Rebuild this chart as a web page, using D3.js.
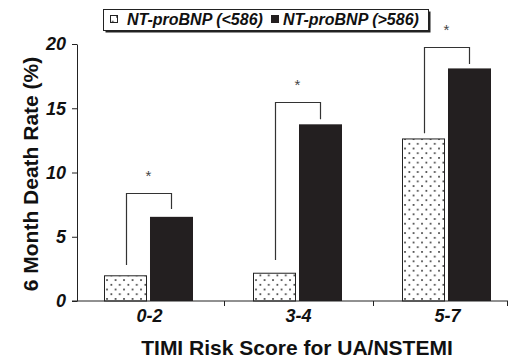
<!DOCTYPE html>
<html>
<head>
<meta charset="utf-8">
<script src="https://cdn.jsdelivr.net/npm/d3@7"></script>
<style>
  body { margin: 0; background: #fff; }
  text { font-family: "Liberation Sans", Arial, sans-serif; fill: #111; }
</style>
</head>
<body>
<div id="chart"></div>
<script>
// data
var categories = ["0-2", "3-4", "5-7"];
var series = ["NT-proBNP (<586)", "NT-proBNP (>586)"];
var lowValues = [2.0, 2.2, 12.65];
var highValues = [6.55, 13.75, 18.1];
// significance brackets (value units): left end, top, right end
var bracketLeft = [2.8, 3.2, 13.05];
var bracketTop = [8.4, 15.5, 19.75];
var bracketRight = [7.15, 14.15, 18.45];
var yTicks = [0, 5, 10, 15, 20];

var width = 509, height = 359;

var svg = d3.select("#chart").append("svg")
    .attr("width", width)
    .attr("height", height);

// dotted fill
var defs = svg.append("defs");
var pat = defs.append("pattern")
    .attr("id", "dots")
    .attr("patternUnits", "userSpaceOnUse")
    .attr("width", 8.5)
    .attr("height", 9.4);
pat.append("rect").attr("width", 8.5).attr("height", 9.4).attr("fill", "#fff");
pat.append("rect").attr("x", 1.5).attr("y", 2).attr("width", 1.6).attr("height", 1.6).attr("fill", "#222");
pat.append("rect").attr("x", 5.75).attr("y", 6.7).attr("width", 1.6).attr("height", 1.6).attr("fill", "#222");

var y = d3.scaleLinear().domain([0, 20]).range([301, 44]);

var x0 = d3.scaleBand().domain(categories).range([75, 522]);
var x1 = d3.scaleBand().domain(["low", "high"]).range([29, 118]).paddingInner(0.065);

var rows = categories.map(function(c, i) {
    return {cat: c, low: lowValues[i], high: highValues[i],
            bl: bracketLeft[i], bt: bracketTop[i], br: bracketRight[i]};
});

// bars
var groups = svg.selectAll(".grp")
    .data(rows)
    .enter().append("g")
    .attr("class", "grp")
    .attr("transform", function(d) { return "translate(" + x0(d.cat) + ",0)"; });

groups.append("rect")
    .attr("x", x1("low") + 0.5)
    .attr("y", function(d) { return y(d.low) + 0.5; })
    .attr("width", x1.bandwidth() - 1)
    .attr("height", function(d) { return y(0) - y(d.low) - 0.5; })
    .attr("fill", "url(#dots)")
    .attr("stroke", "#222")
    .attr("stroke-width", 1);

groups.append("rect")
    .attr("x", x1("high"))
    .attr("y", function(d) { return y(d.high); })
    .attr("width", x1.bandwidth())
    .attr("height", function(d) { return y(0) - y(d.high); })
    .attr("fill", "#231f20");

// brackets
groups.append("path")
    .attr("fill", "none")
    .attr("stroke", "#333")
    .attr("stroke-width", 1.2)
    .attr("d", function(d) {
        var xl = Math.round(x1("low") + x1.bandwidth() / 2) + 0.5;
        var xr = Math.round(x1("high") + x1.bandwidth() / 2) + 0.5;
        return "M" + xl + "," + y(d.bl) + "V" + (Math.round(y(d.bt)) + 0.5) +
               "H" + xr + "V" + y(d.br);
    });

groups.append("text")
    .attr("x", x1("high") - 1.5)
    .attr("y", function(d) { return y(d.bt) - 12; })
    .attr("text-anchor", "middle")
    .style("font-size", "15px")
    .style("fill", "#444")
    .text("*");

// y axis
var yAxis = svg.append("g")
    .attr("transform", "translate(77,0)")
    .call(d3.axisLeft(y).tickValues(yTicks).tickSize(5).tickPadding(6).tickSizeOuter(0));
yAxis.select(".domain").attr("stroke", "#222");
yAxis.selectAll(".tick line").attr("stroke", "#222");
yAxis.selectAll(".tick text")
    .style("font-size", "18px")
    .style("font-weight", "bold")
    .style("font-style", "italic")
    .attr("fill", "#111");

// x axis
var xAxis = svg.append("g")
    .attr("transform", "translate(0,301)")
    .call(d3.axisBottom(x0).tickSize(0).tickPadding(8));
xAxis.select(".domain").remove();
xAxis.selectAll(".tick text")
    .style("font-size", "18px")
    .style("font-weight", "bold")
    .style("font-style", "italic")
    .attr("fill", "#111");
xAxis.append("line")
    .attr("x1", 72).attr("x2", 508)
    .attr("y1", 0).attr("y2", 0)
    .attr("stroke", "#222");
var bounds = categories.slice(1).map(function(c) { return x0(c); }).concat([507]);
xAxis.selectAll(".bound")
    .data(bounds)
    .enter().append("line")
    .attr("class", "bound")
    .attr("x1", function(d) { return Math.round(d) + 0.5; })
    .attr("x2", function(d) { return Math.round(d) + 0.5; })
    .attr("y1", 0).attr("y2", 5)
    .attr("stroke", "#222");

// axis titles
svg.append("text")
    .attr("transform", "translate(38,174) rotate(-90)")
    .attr("text-anchor", "middle")
    .style("font-size", "21px")
    .style("font-weight", "bold")
    .text("6 Month Death Rate (%)");

svg.append("text")
    .attr("x", 297)
    .attr("y", 355)
    .attr("text-anchor", "middle")
    .style("font-size", "21px")
    .style("font-weight", "bold")
    .text("TIMI Risk Score for UA/NSTEMI");

// legend
var lg = svg.append("g");
lg.append("rect")
    .attr("x", 105.5).attr("y", 11.5)
    .attr("width", 325).attr("height", 21)
    .attr("fill", "#222");
lg.append("rect")
    .attr("x", 103.5).attr("y", 9.5)
    .attr("width", 325).attr("height", 21)
    .attr("fill", "#fff")
    .attr("stroke", "#222");
lg.append("rect")
    .attr("x", 110.5).attr("y", 15.5)
    .attr("width", 7).attr("height", 7)
    .attr("fill", "url(#dots)")
    .attr("stroke", "#222");
lg.append("rect")
    .attr("x", 271).attr("y", 15)
    .attr("width", 8).attr("height", 8)
    .attr("fill", "#231f20");
lg.selectAll(".lt")
    .data(series)
    .enter().append("text")
    .attr("class", "lt")
    .attr("x", function(d, i) { return i === 0 ? 127 : 283; })
    .attr("y", 25)
    .style("font-size", "16px")
    .style("font-weight", "bold")
    .style("font-style", "italic")
    .text(function(d) { return d; });
</script>
</body>
</html>
